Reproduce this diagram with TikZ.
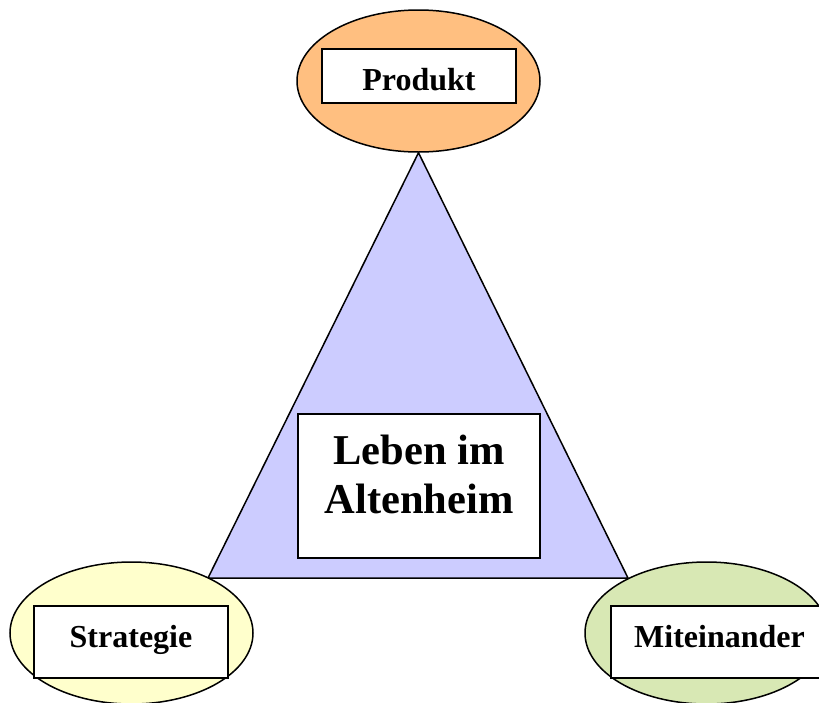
\documentclass[tikz,border=0pt]{standalone}
\usepackage{fontspec}
\setmainfont{Liberation Serif}
\usetikzlibrary{shapes.geometric}
\definecolor{orangefill}{RGB}{255,191,128}
\definecolor{yellowfill}{RGB}{255,255,204}
\definecolor{greenfill}{RGB}{216,232,180}
\definecolor{trifill}{RGB}{204,204,255}
\tikzset{
  oval/.style={ellipse, draw=black, line width=1.5pt, minimum width=243pt, minimum height=142pt, inner sep=0pt},
  labelbox/.style={rectangle, draw=black, fill=white, line width=1.5pt, inner sep=0pt},
  lbl/.style={anchor=base, inner sep=0pt, font=\bfseries\fontsize{32}{38}\selectfont},
  biglbl/.style={anchor=base, inner sep=0pt, font=\bfseries\fontsize{42.5}{49}\selectfont}
}
\begin{document}
\begin{tikzpicture}[x=1pt,y=-1pt]
\useasboundingbox (0,0) rectangle (819,702);
% ellipses (positions)
\node[oval, fill=orangefill] (prod) at (418.5,81) {};
% triangle
\coordinate (tl) at (208,578);
\coordinate (tr) at (628,578);
\draw[line width=1.5pt, fill=trifill, line join=miter] (prod.south) -- (tr) -- (tl) -- cycle;
\node[oval, fill=yellowfill] (strat) at (131.5,633) {};
\node[oval, fill=greenfill] (mit) at (706.5,633) {};
% boxes
\node[labelbox, minimum width=194pt, minimum height=54pt] (prodbox) at (419,76) {};
\node[lbl] (prodtxt) at (419,90) {Produkt};
\node[labelbox, minimum width=194pt, minimum height=72pt] (stratbox) at (131,642) {};
\node[lbl] (strattxt) at (131,647) {Strategie};
\node[labelbox, minimum width=216pt, minimum height=72pt] (mitbox) at (719,642) {};
\node[lbl] (mittxt) at (719.5,647) {Miteinander};
\node[labelbox, minimum width=242pt, minimum height=144pt] (lebbox) at (419,486) {};
\node[biglbl] (leb1) at (419,464) {Leben im};
\node[biglbl] (leb2) at (419,513) {Altenheim};
\end{tikzpicture}
\end{document}
